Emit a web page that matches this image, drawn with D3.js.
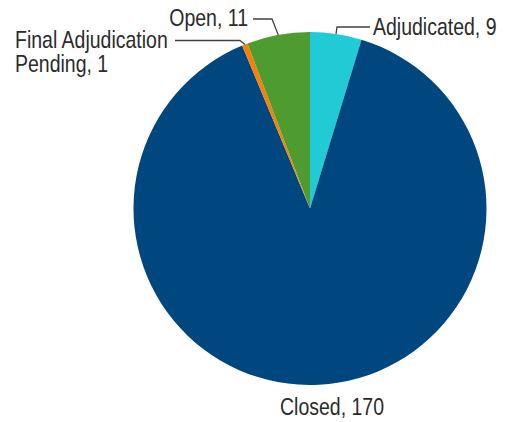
<!DOCTYPE html>
<html>
<head>
<meta charset="utf-8">
<script src="https://cdn.jsdelivr.net/npm/d3@7"></script>
<style>
  body { margin: 0; background: #fff; }
  svg text { font-family: "Liberation Sans Narrow", "Arial Narrow", "Liberation Sans", Arial, sans-serif; font-size: 24px; fill: #2b2b2b; }
</style>
</head>
<body>
<svg id="chart" width="505" height="422"></svg>
<script>
const categories = ["Adjudicated", "Closed", "Final Adjudication Pending", "Open"]
const values = [9, 170, 1, 11]
const labelLines = [["Adjudicated, 9"], ["Closed, 170"], ["Final Adjudication", "Pending, 1"], ["Open, 11"]]
const colors = ["#21cbd6", "#00467f", "#f7800a", "#4e9c30"]

const width = 505, height = 422
const cx = 310, cy = 208.5, radius = 176.5
// no narrow font installed, so squeeze the regular one
const squeeze = 0.812

const svg = d3.select("#chart")
const g = svg.append("g").attr("transform", `translate(${cx},${cy})`)

const pie = d3.pie().sort(null).value(d => d.value)
const arcs = pie(categories.map((c, i) => ({ name: c, value: values[i], i })))

const arc = d3.arc().innerRadius(0).outerRadius(radius)
const edge = d3.arc().innerRadius(radius).outerRadius(radius)

g.selectAll("path.slice")
  .data(arcs)
  .enter()
  .append("path")
  .attr("class", "slice")
  .attr("d", arc)
  .style("fill", d => colors[d.data.i])

// label layout: elbow point, end of line, text anchor point (relative to pie centre)
const layout = {
  "Adjudicated": { elbow: [27, -181.5], end: [60, -181.5], text: [63, -173.5], anchor: "start" },
  "Open": { elbow: [-38, -189.5], end: [-57, -189.5], text: [-62, -183], anchor: "end" },
  "Final Adjudication Pending": { elbow: [-70, -168], end: [-135, -168], text: [-295, -161], anchor: "start" },
  "Closed": { text: [22, 206.5], anchor: "middle" }
}

arcs.forEach(d => {
  const l = layout[d.data.name]
  if (l.elbow) {
    const p = edge.centroid(d)
    g.append("polyline")
      .attr("points", [p, l.elbow, l.end].map(q => q.join(",")).join(" "))
      .style("fill", "none")
      .style("stroke", "#404040")
      .style("stroke-width", 1.3)
  }
  const t = g.append("g")
    .attr("transform", `translate(${l.text[0]},${l.text[1]}) scale(${squeeze},1)`)
    .append("text")
    .attr("text-anchor", l.anchor)
  labelLines[d.data.i].forEach((line, k) => {
    t.append("tspan")
      .attr("x", 0)
      .attr("dy", k === 0 ? 0 : 25)
      .text(line)
  })
})
</script>
</body>
</html>
